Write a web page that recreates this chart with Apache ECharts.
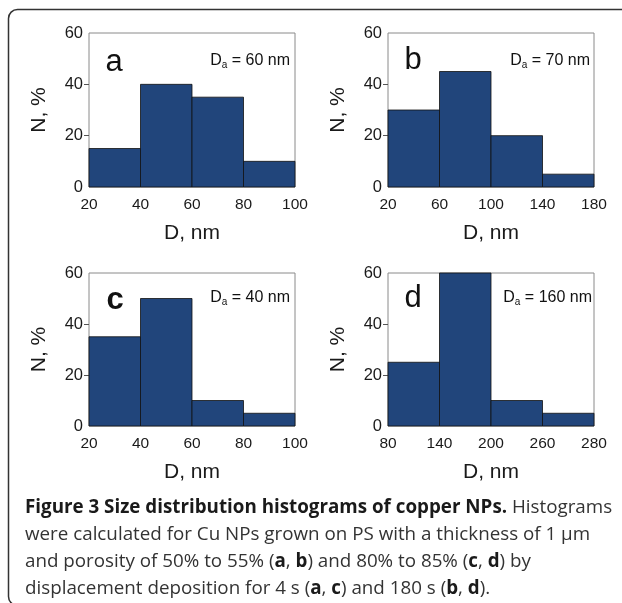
<!DOCTYPE html>
<html>
<head>
<meta charset="utf-8">
<script src="https://cdn.jsdelivr.net/npm/echarts@6/dist/echarts.min.js"></script>
<style>
  html, body { margin: 0; padding: 0; background: #fff; }
  #main { width: 622px; height: 603px; }
</style>
</head>
<body>
<div id="main"></div>
<script>
// bin edges shown under each histogram (bins are drawn equal width)
const edgesA = ['20', '40', '60', '80', '100'];
const edgesB = ['20', '60', '100', '140', '180'];
const edgesC = ['20', '40', '60', '80', '100'];
const edgesD = ['80', '140', '200', '260', '280'];

// N, % per bin
const valuesA = [15, 40, 35, 10];
const valuesB = [30, 45, 20, 5];
const valuesC = [35, 50, 10, 5];
const valuesD = [25, 60, 10, 5];

const panelLetters = ['a', 'b', 'c', 'd'];
const meanSizes = ['60', '70', '40', '160'];

const FONT = '"Liberation Sans", Arial, sans-serif';
const BAR_COLOR = '#21457b';

const panels = [
  { edges: edgesA, values: valuesA, left: 89, top: 33, height: 154 },
  { edges: edgesB, values: valuesB, left: 388, top: 33, height: 154 },
  { edges: edgesC, values: valuesC, left: 89, top: 273, height: 153 },
  { edges: edgesD, values: valuesD, left: 388, top: 273, height: 153 }
];

const grid = [], xAxis = [], yAxis = [], series = [];

panels.forEach((p, i) => {
  grid.push({
    left: p.left, top: p.top, width: 206, height: p.height,
    show: true, borderColor: '#8a8a8a', borderWidth: 1
  });
  xAxis.push({
    gridIndex: i, type: 'value', min: 0, max: 4, interval: 1,
    name: 'D, nm', nameLocation: 'middle', nameGap: 36,
    nameTextStyle: { fontFamily: FONT, fontSize: 21, color: '#1a1a1a' },
    axisLine: { show: false }, axisTick: { show: false }, splitLine: { show: false },
    axisLabel: {
      margin: 10, fontFamily: FONT, fontSize: 15.5, color: '#1a1a1a',
      formatter: v => p.edges[v]
    }
  });
  yAxis.push({
    gridIndex: i, type: 'value', min: 0, max: 60, interval: 20,
    name: 'N, %', nameLocation: 'middle', nameGap: 39, nameRotate: 90,
    nameTextStyle: { fontFamily: FONT, fontSize: 21, color: '#1a1a1a' },
    axisLine: { show: false }, splitLine: { show: false },
    axisTick: { show: true, length: 5, customValues: [20, 40], lineStyle: { color: '#555' } },
    axisLabel: { margin: 6, fontFamily: FONT, fontSize: 16.5, color: '#1a1a1a' }
  });
  series.push({
    type: 'custom', xAxisIndex: i, yAxisIndex: i,
    data: p.values.map((v, k) => [k, k + 1, v]),
    renderItem: (params, api) => {
      const a = api.coord([api.value(0), api.value(2)]);
      const b = api.coord([api.value(1), 0]);
      return {
        type: 'rect',
        shape: { x: a[0], y: a[1], width: b[0] - a[0], height: b[1] - a[1] },
        style: { fill: BAR_COLOR, stroke: '#111', lineWidth: 0.8 }
      };
    }
  });
});

const graphic = [
  // figure frame, only left and top edges visible
  {
    type: 'rect', silent: true,
    shape: { x: 8.5, y: 9.5, width: 800, height: 596, r: 9 },
    style: { fill: 'none', stroke: '#333', lineWidth: 1.5 }
  }
];

const letterPos = [[114, 62], [413, 60], [115, 300], [413, 298]];
const meanPos = [[290, 61], [590, 61], [290, 298], [592, 298]];

panelLetters.forEach((l, i) => {
  graphic.push({
    type: 'text', x: letterPos[i][0], y: letterPos[i][1],
    style: {
      text: l, fontFamily: FONT, fontSize: 31, fill: '#111',
      fontWeight: l === 'c' ? 'bold' : 'normal',
      align: 'center', verticalAlign: 'middle'
    }
  });
  graphic.push({
    type: 'text', x: meanPos[i][0], y: meanPos[i][1],
    style: {
      text: 'D{s|a} = ' + meanSizes[i] + ' nm',
      fontFamily: FONT, fontSize: 16, fill: '#111',
      align: 'right', verticalAlign: 'middle',
      rich: { s: { fontFamily: FONT, fontSize: 10, padding: [9, 0, 0, 0], fill: '#111' } }
    }
  });
});

const CAP_FONT = '"Open Sans", "Noto Sans", sans-serif';
const captionLines = [
  '{b|Figure 3 Size distribution histograms of copper NPs.} Histograms',
  'were calculated for Cu NPs grown on PS with a thickness of 1 μm',
  'and porosity of 50% to 55% ({b|a}, {b|b}) and 80% to 85% ({b|c}, {b|d}) by',
  'displacement deposition for 4 s ({b|a}, {b|c}) and 180 s ({b|b}, {b|d}).'
];
captionLines.forEach((t, k) => {
  graphic.push({
    type: 'text', x: 25, y: 508 + k * 26.8,
    style: {
      text: t, fontFamily: CAP_FONT, fontSize: 18.8, fill: '#333',
      verticalAlign: 'middle',
      rich: { b: { fontFamily: CAP_FONT, fontSize: 18.8, fontWeight: 'bold', fill: '#1a1a1a' } }
    }
  });
});

const option = {
  animation: false,
  backgroundColor: '#fff',
  grid, xAxis, yAxis, series, graphic
};

const chart = echarts.init(document.getElementById('main'));
chart.setOption(option);
</script>
</body>
</html>
